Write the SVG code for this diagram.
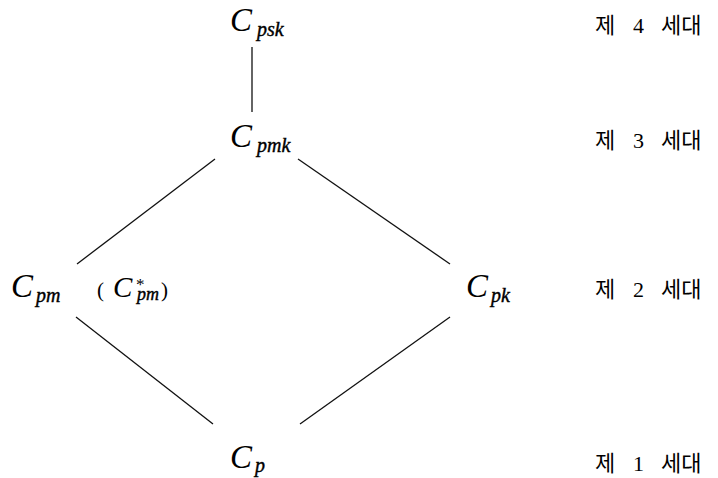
<svg xmlns="http://www.w3.org/2000/svg" width="718" height="478" viewBox="0 0 718 478">
  <style>
    .c { font-family: "Liberation Serif", "DejaVu Serif", serif; font-style: italic; font-size: 33px; fill: #000; }
    .s { font-family: "Liberation Serif", "DejaVu Serif", serif; font-style: italic; font-size: 20px; fill: #000; stroke: #000; stroke-width: 0.4; }
    .p { font-family: "Liberation Serif", "DejaVu Serif", serif; font-size: 21px; fill: #000; }
    .g { font-family: "Liberation Serif", "Noto Sans CJK KR", serif; font-size: 22px; fill: #000; }
    .e { stroke: #111; stroke-width: 1.3; fill: none; }
  </style>
  <rect width="718" height="478" fill="#fff"/>

  <g id="connectors">
    <line class="e" x1="252" y1="47" x2="252" y2="112"/>
    <line class="e" x1="215" y1="159" x2="77" y2="264"/>
    <line class="e" x1="298" y1="159" x2="450" y2="264"/>
    <line class="e" x1="76" y1="317" x2="213" y2="424"/>
    <line class="e" x1="450" y1="317" x2="300" y2="424"/>
  </g>

  <g id="node-cpsk">
    <text class="c" x="230" y="31">C</text>
    <text class="s" x="257" y="36">psk</text>
  </g>
  <g id="node-cpmk">
    <text class="c" x="230" y="147">C</text>
    <text class="s" x="257" y="152">pmk</text>
  </g>
  <g id="node-cpm">
    <text class="c" x="11" y="297">C</text>
    <text class="s" x="36" y="302">pm</text>
    <text class="p" x="97" y="297">(</text>
    <text class="c" x="113" y="297" style="font-size:29px">C</text>
    <text class="p" x="136" y="290" style="font-size:17px">*</text>
    <text class="s" x="137" y="300" style="font-size:18px">pm</text>
    <text class="p" x="161" y="297">)</text>
  </g>
  <g id="node-cpk">
    <text class="c" x="466" y="297">C</text>
    <text class="s" x="491" y="302">pk</text>
  </g>
  <g id="node-cp">
    <text class="c" x="230" y="468">C</text>
    <text class="s" x="255" y="472">p</text>
  </g>

  <g id="generations">
    <text class="g" y="33"><tspan x="595">제</tspan><tspan x="633">4</tspan><tspan x="661">세대</tspan></text>
    <text class="g" y="148"><tspan x="595">제</tspan><tspan x="633">3</tspan><tspan x="661">세대</tspan></text>
    <text class="g" y="297"><tspan x="595">제</tspan><tspan x="633">2</tspan><tspan x="661">세대</tspan></text>
    <text class="g" y="471"><tspan x="595">제</tspan><tspan x="633">1</tspan><tspan x="661">세대</tspan></text>
  </g>
</svg>
